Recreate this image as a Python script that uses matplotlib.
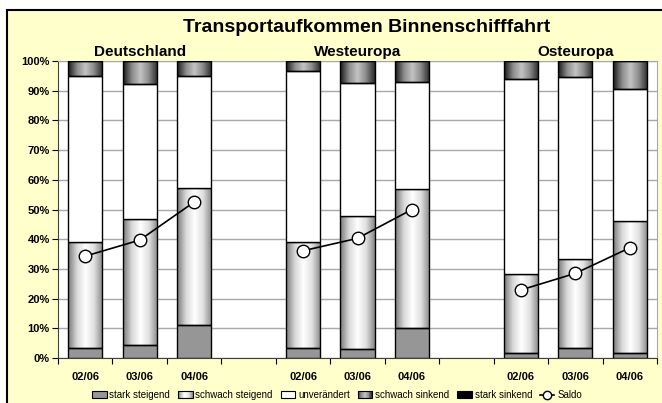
import numpy as np
import matplotlib
matplotlib.use("Agg")
import matplotlib.pyplot as plt
from matplotlib.patches import Rectangle, Patch
from matplotlib.lines import Line2D
from matplotlib.legend_handler import HandlerBase
from matplotlib.colors import LinearSegmentedColormap

plt.rcParams['font.family'] = ['Liberation Sans', 'DejaVu Sans']

groups = ['Deutschland', 'Westeuropa', 'Osteuropa']
periods = ['02/06', '03/06', '04/06']

stark_steigend = [3.2, 4.4, 11.1, 3.2, 3.0, 10.0, 1.8, 3.5, 1.6]
schwach_steigend = [36.0, 42.4, 46.0, 36.0, 44.8, 46.8, 26.5, 29.7, 44.6]
unveraendert = [55.8, 45.5, 37.9, 57.3, 44.7, 36.2, 65.7, 61.5, 44.4]
schwach_sinkend = [5.0, 7.7, 5.0, 3.5, 7.5, 7.0, 6.0, 5.3, 9.4]
stark_sinkend = [0, 0, 0, 0, 0, 0, 0, 0, 0]
saldo = [34.3, 39.7, 52.5, 36.1, 40.3, 50.0, 22.9, 28.5, 37.1]

W, H = 662, 403
bg = '#FFFFCC'

# slot positions: three groups of three with one empty slot between
xpos = np.array([0, 1, 2, 4, 5, 6, 8, 9, 10])

fig = plt.figure(figsize=(W / 100, H / 100), dpi=100)
fig.patch.set_facecolor('white')
fig.patches.append(Rectangle((7 / W, -0.1), 2, (H - 10) / H + 0.1, transform=fig.transFigure,
                             facecolor=bg, edgecolor='black', lw=1.5, zorder=-1))

ax = fig.add_axes([58 / W, (H - 358) / H, 599 / W, 297 / H])
ax.set_facecolor('white')

cm_up = LinearSegmentedColormap.from_list('up', ['#7a7a7a', '#d8d8d8', '#ffffff', '#e0e0e0', '#8a8a8a'])
cm_down = LinearSegmentedColormap.from_list('down', ['#1a1a1a', '#8a8a8a', '#c4c4c4', '#8a8a8a', '#2a2a2a'])
grad = np.linspace(0, 1, 64).reshape(1, -1)

width = 0.63
series = [
    ('stark steigend', stark_steigend, '#969696', None),
    ('schwach steigend', schwach_steigend, None, cm_up),
    ('unverändert', unveraendert, '#ffffff', None),
    ('schwach sinkend', schwach_sinkend, None, cm_down),
    ('stark sinkend', stark_sinkend, '#000000', None),
]

bottom = np.zeros(len(xpos))
for name, vals, col, cmap in series:
    vals = np.array(vals, dtype=float)
    bars = ax.bar(xpos, vals, width, bottom=bottom, color=col if col else 'none',
                  edgecolor='black', linewidth=1, zorder=3)
    if cmap is not None:
        for p in bars:
            x0, y0 = p.get_x(), p.get_y()
            ax.imshow(grad, cmap=cmap, aspect='auto', zorder=2.5,
                      extent=(x0, x0 + p.get_width(), y0, y0 + p.get_height()))
    bottom += vals

for g in range(3):
    idx = slice(3 * g, 3 * g + 3)
    ax.plot(xpos[idx], saldo[idx], color='black', lw=1.2, marker='o', markersize=9,
            markerfacecolor='white', markeredgecolor='black', markeredgewidth=1, zorder=5)

ax.set_xlim(-0.5, 10.5)
ax.set_ylim(0, 100)
ax.set_yticks(np.arange(0, 101, 10))
ax.set_yticklabels([f'{v}%' for v in range(0, 101, 10)], fontsize=8, fontweight='bold')
ax.yaxis.grid(True, color='#a8a8a8', lw=1)
ax.set_axisbelow(True)

ax.set_xticks(np.arange(-0.5, 11, 1))
ax.set_xticklabels([])
ax.set_xticks(xpos, minor=True)
ax.set_xticklabels(periods * 3, minor=True, fontsize=8, fontweight='bold')
ax.tick_params(axis='x', which='minor', length=0, pad=10)
ax.tick_params(axis='x', which='major', length=4, direction='out')
ax.tick_params(axis='y', length=4, direction='out', pad=2)

for s in ['top', 'right']:
    ax.spines[s].set_color('#a8a8a8')
for s in ['left', 'bottom']:
    ax.spines[s].set_color('#404040')

for g, name in enumerate(groups):
    ax.text(xpos[3 * g + 1], 103, name, ha='center', va='center', fontsize=11,
            fontweight='bold', clip_on=False)

fig.text(367 / W, 1 - 28 / H, 'Transportaufkommen Binnenschifffahrt', ha='center', va='center',
         fontsize=14, fontweight='bold')


class HandlerGradient(HandlerBase):
    def __init__(self, cmap):
        super().__init__()
        self.cmap = cmap

    def create_artists(self, legend, orig_handle, xdescent, ydescent, width, height, fontsize, trans):
        arts = []
        n = 16
        for i in range(n):
            arts.append(Rectangle((-xdescent + width * i / n, -ydescent), width / n + 0.3, height,
                                  facecolor=self.cmap((i + 0.5) / n), edgecolor='none', transform=trans))
        arts.append(Rectangle((-xdescent, -ydescent), width, height, facecolor='none',
                              edgecolor='black', lw=0.8, transform=trans))
        return arts


h_ss = Patch(facecolor='#969696', edgecolor='black', lw=0.8)
h_sw = Patch()
h_un = Patch(facecolor='white', edgecolor='black', lw=0.8)
h_sk = Patch()
h_sn = Patch(facecolor='black', edgecolor='black', lw=0.8)
h_sa = Line2D([], [], color='black', lw=1.2, marker='o', markersize=6, markerfacecolor='white')
handles = [h_ss, h_sw, h_un, h_sk, h_sn, h_sa]
labels = [s[0] for s in series] + ['Saldo']
fig.legend(handles, labels, loc='center', bbox_to_anchor=(337 / W, 1 - 395 / H), ncol=6,
           frameon=False, fontsize=7, handlelength=1.5, handleheight=0.7, handletextpad=0.3,
           columnspacing=0.8,
           handler_map={h_sw: HandlerGradient(cm_up), h_sk: HandlerGradient(cm_down)})

fig.savefig('out.png', dpi=100, facecolor=fig.get_facecolor())
